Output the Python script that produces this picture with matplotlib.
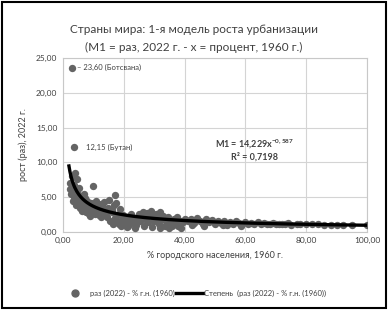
import numpy as np
import matplotlib.pyplot as plt
from matplotlib.lines import Line2D

# urban share 1960 (%) and growth ratio 2022/1960
urb_1960 = [2.2, 2.5, 2.8, 3.0, 3.1, 3.3, 3.5, 3.6, 3.8, 4.0, 4.2, 4.5, 4.7, 5.0,
            5.2, 5.5, 5.8, 6.0, 6.2, 6.5, 6.8, 7.0, 7.2, 7.5, 7.8, 8.0, 8.3, 8.6,
            9.0, 9.3, 9.6, 10.0, 10.2, 10.5, 10.8, 11.0, 11.4, 11.8, 12.0, 12.4,
            12.8, 13.0, 13.5, 13.8, 14.0, 14.5, 15.0, 15.3, 15.6, 16.0, 16.4,
            16.8, 17.0, 17.3, 17.6, 18.0, 18.3, 18.7, 19.0, 19.4, 19.8, 20.2,
            20.5, 21.0, 21.5, 22.0, 22.5, 23.0, 23.5, 24.0, 24.5, 25.0, 25.5,
            26.0, 26.5, 27.0, 27.5, 28.0, 28.5, 29.0, 29.5, 30.0, 30.5, 31.0,
            31.5, 32.0, 32.5, 33.0, 33.5, 34.0, 34.5, 35.0, 35.5, 36.0, 36.5,
            37.0, 37.5, 38.0, 38.5, 39.0, 39.5, 40.0, 41.0, 42.0, 43.0, 44.0,
            45.0, 46.0, 47.0, 48.0, 49.0, 50.0, 51.0, 52.0, 53.0, 54.0, 55.0,
            56.0, 57.0, 58.0, 59.0, 60.0, 61.0, 62.0, 63.0, 64.0, 65.0, 66.0,
            67.0, 68.0, 69.0, 70.0, 71.0, 72.0, 73.0, 74.0, 75.0, 77.0, 78.0,
            80.0, 82.0, 84.0, 86.0, 88.0, 90.0, 92.0, 95.0, 100.0,
            3.9, 4.8, 5.6, 6.6, 7.6, 8.8, 9.8, 11.2, 12.6, 14.2, 16.2, 18.5,
            21.2, 23.8, 26.8, 29.2, 31.8, 34.8, 37.8, 42.5, 46.5, 52.5, 58.5]
ratio_2022 = [7.0, 6.2, 5.5, 8.0, 23.60, 4.5, 6.8, 12.15, 5.0, 8.4, 3.8, 5.8, 7.6,
              4.2, 6.3, 3.5, 5.2, 4.6, 3.0, 4.0, 5.5, 3.3, 4.8, 2.8, 3.9, 4.4,
              3.2, 2.6, 3.6, 4.2, 2.9, 6.6, 3.4, 2.5, 3.8, 4.5, 3.0, 2.4, 3.3,
              4.0, 2.8, 3.7, 4.3, 2.5, 3.1, 2.2, 3.5, 4.6, 1.6, 2.9, 1.2, 3.8,
              5.3, 2.0, 4.1, 1.4, 2.6, 3.3, 0.8, 1.9, 2.4, 1.1, 1.6, 2.2, 0.9,
              1.7, 2.5, 1.3, 2.0, 1.0, 1.8, 2.6, 1.5, 2.2, 2.9, 1.9, 2.7, 1.4,
              2.4, 3.0, 2.1, 1.6, 2.6, 2.0, 1.2, 2.8, 1.8, 2.3, 0.9, 1.5, 2.1,
              1.0, 1.7, 0.8, 1.9, 1.3, 2.2, 0.9, 1.6, 0.6, 1.4, 1.8, 1.5, 1.9,
              1.3, 2.0, 1.6, 1.2, 1.8, 1.4, 1.7, 1.1, 1.5, 1.3, 1.6, 1.0, 1.4,
              1.2, 1.5, 1.3, 1.1, 1.4, 1.2, 1.3, 1.1, 1.4, 1.2, 1.3, 1.1, 1.2,
              1.3, 1.1, 1.2, 1.15, 1.1, 1.25, 1.05, 1.15, 1.1, 1.12, 1.08, 1.1,
              1.06, 1.05, 1.03, 1.04, 1.02, 1.0,
              5.9, 4.9, 3.9, 3.5, 3.6, 2.3, 3.1, 2.7, 2.1, 2.7, 3.2, 1.1,
              0.7, 0.6, 0.8, 0.7, 0.5, 0.6, 1.1, 1.0, 0.9, 1.0, 0.9]

fit_a = 14.229
fit_b = -0.587

plt.rcParams['font.family'] = ['Lato', 'DejaVu Sans']

fig = plt.figure(figsize=(3.88, 3.10), dpi=100)
ax = fig.add_axes([0.162, 0.252, 0.784, 0.561])

dot_col = '#646464'
ax.scatter(urb_1960, ratio_2022, s=28, color=dot_col, zorder=3, linewidths=0)

xs = np.linspace(2.0, 100, 300)
ax.plot(xs, fit_a * xs ** fit_b, color='black', lw=2.4, zorder=4)

ax.set_xlim(0, 100)
ax.set_ylim(0, 25)
ax.set_xticks(np.arange(0, 101, 20))
ax.set_yticks(np.arange(0, 26, 5))
ax.set_xticklabels([('%.2f' % v).replace('.', ',') for v in np.arange(0, 101, 20)])
ax.set_yticklabels([('%.2f' % v).replace('.', ',') for v in np.arange(0, 26, 5)])
ax.tick_params(length=0, labelsize=6, colors='#404040', pad=4)
ax.grid(color='#d4d4d4', lw=0.8)
ax.set_axisbelow(True)
for s in ax.spines.values():
    s.set_color('#c8c8c8')
    s.set_linewidth(0.8)

ax.set_xlabel('% городского населения, 1960 г.', fontsize=6.5, color='#404040', labelpad=5)
ax.set_ylabel('рост (раз), 2022 г.', fontsize=6.5, color='#404040', labelpad=6)

ax.text(4.8, 23.6, '– 23,60 (Ботсвана)', fontsize=5.5, color='#404040', va='center')
ax.text(7.5, 12.15, '12,15 (Бутан)', fontsize=5.5, color='#404040', va='center')

ax.text(63, 12.6, 'M1 = 14,229x$^{\\mathregular{-0,587}}$', fontsize=6.5, fontweight='bold',
        color='#404040', ha='center', va='center')
ax.text(63, 10.8, 'R² = 0,7198', fontsize=6.5, fontweight='bold',
        color='#404040', ha='center', va='center')

fig.text(0.5, 0.905, 'Страны мира: 1-я модель роста урбанизации',
         fontsize=8.5, color='#404040', ha='center', va='center')
fig.text(0.5, 0.848, '(M1 = раз, 2022 г. - x = процент, 1960 г.)',
         fontsize=8.5, color='#404040', ha='center', va='center')

handles = [Line2D([], [], marker='o', ls='none', color=dot_col, markersize=5),
           Line2D([], [], color='black', lw=2.4)]
fig.legend(handles, ['раз (2022) - % г.н. (1960)', 'Степень  (раз (2022) - % г.н. (1960))'],
           loc='center', bbox_to_anchor=(0.5, 0.055), ncol=2, frameon=False,
           fontsize=5.5, handlelength=3.5, columnspacing=0.2, handletextpad=0.2,
           labelcolor='#404040')

fig.patches.append(plt.Rectangle((0.004, 0.006), 0.99, 0.988, transform=fig.transFigure,
                                 fill=False, edgecolor='black', lw=1.5))

plt.savefig('out.png', dpi=100)
